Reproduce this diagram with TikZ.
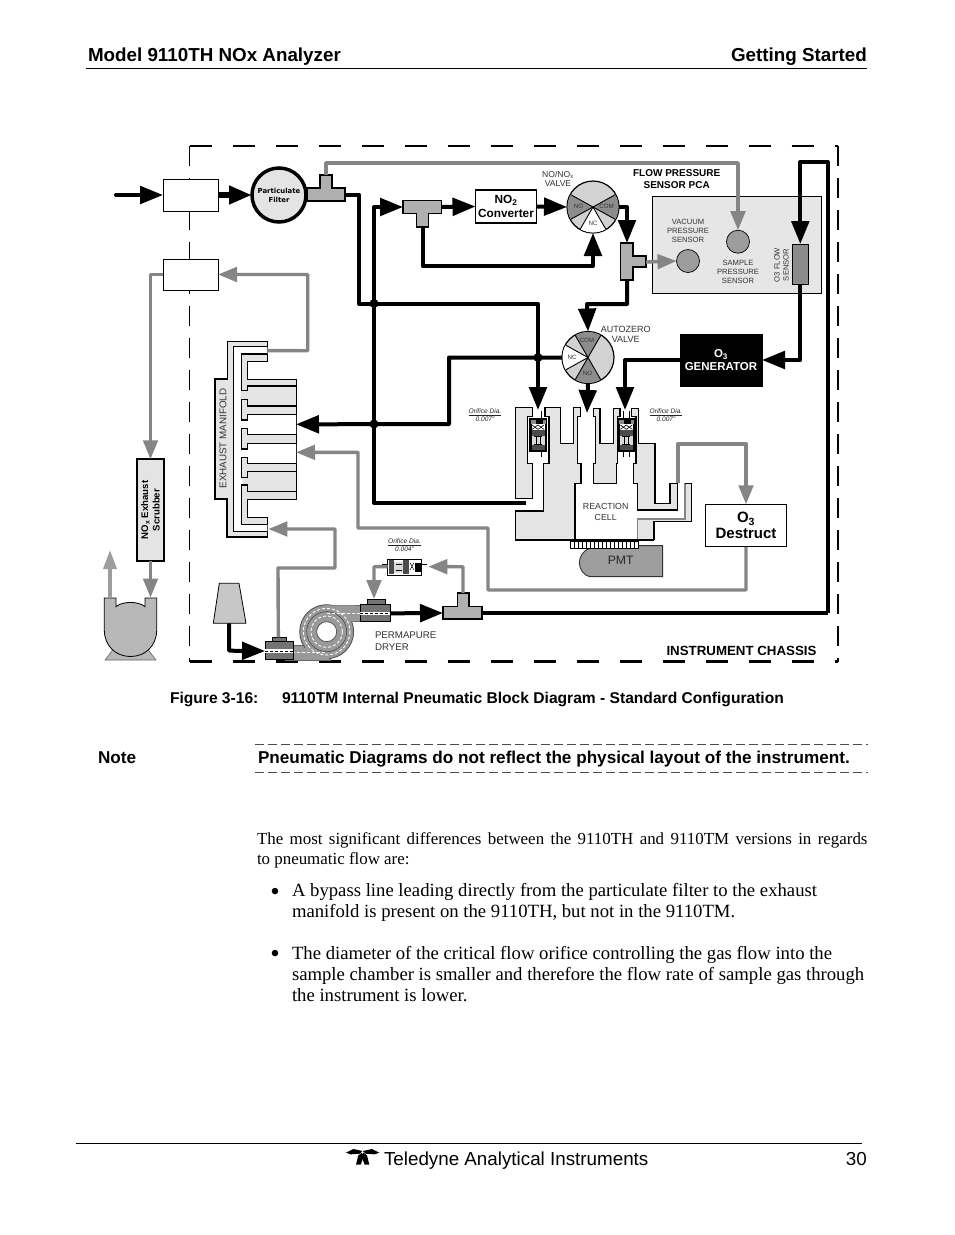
\documentclass[tikz,border=0pt]{standalone}
\usepackage{fontspec}
\setmainfont{Liberation Serif}
\setsansfont{Liberation Sans}
\newfontfamily\filterfont{DejaVu Sans}
\usetikzlibrary{arrows.meta}
\newcommand\pxf[1]{\fontsize{#1}{#1}\selectfont}
\definecolor{bodyg}{HTML}{E4E4E4}
\definecolor{teeg}{HTML}{B0B0B0}
\definecolor{pipeg}{HTML}{858585}
\definecolor{darkg}{HTML}{8C8C8C}
\definecolor{valveg}{HTML}{D2D2D2}
\tikzset{
 blk/.style={draw=black,line width=4pt,line join=round},
 blkA/.style={blk,-{Triangle[length=23pt,width=17.5pt]}},
 gry/.style={draw=pipeg,line width=3.4pt,line join=round},
 gryA/.style={gry,-{Triangle[length=19pt,width=14.5pt]}},
 box/.style={draw=black,fill=white,line width=1pt,inner sep=0pt,outer sep=0pt,align=center,font=\sffamily},
 tee/.style={draw=black,fill=teeg,line width=1.3pt,line join=miter},
 wall/.style={draw=black,fill=bodyg,line width=1.5pt,line join=miter},
 dotj/.style={circle,fill=black,inner sep=0pt,minimum size=9pt},
 lab/.style={inner sep=0pt,outer sep=0pt,align=center,font=\sffamily\pxf{7.6}\selectfont,text=black!80},
 orf/.style={inner sep=0pt,outer sep=0pt,align=center,font=\sffamily\itshape\pxf{6.6}\selectfont,text=black!85},
 txt/.style={inner sep=0pt,outer sep=0pt,anchor=base west},
 vlab/.style={inner sep=0pt,font=\sffamily\pxf{6.2}\selectfont,text=black!80},
 valve/.style={circle,draw=black,fill=valveg,line width=1.2pt,minimum size=52pt,inner sep=0pt,outer sep=0pt},
 sensor/.style={circle,draw=black,fill=darkg!85!white,line width=.7pt,minimum size=23pt,inner sep=0pt,outer sep=0pt},
}
\begin{document}
\begin{tikzpicture}[x=1pt,y=-1pt]
\useasboundingbox (0,0) rectangle (954,1235);
\fill[white] (0,0) rectangle (954,1235);

% ---------- page header
\node[txt,font=\sffamily\bfseries\pxf{18.8}] (hL) at (88,61) {Model 9110TH NOx Analyzer};
\node[inner sep=0pt,anchor=base east,font=\sffamily\bfseries\pxf{18.8}] (hR) at (867,61) {Getting Started};
\draw[line width=.8pt] (86,68.5) -- (867,68.5);

% ---------- chassis
\draw[line width=2.1pt,dash pattern=on 22pt off 21pt] (189.5,146) -- (838,146);
\draw[line width=2.1pt,dash pattern=on 22pt off 21pt] (189.5,661.5) -- (838,661.5);
\draw[line width=2.1pt,dash pattern=on 20pt off 12pt] (838,146) -- (838,662);
\draw[line width=1pt,dash pattern=on 20pt off 12pt] (189.5,146) -- (189.5,662);
\node[font=\sffamily\bfseries\pxf{13.3},inner sep=0pt] (chasT) at (741.5,651) {INSTRUMENT CHASSIS};

% ---------- boxes
\node[box,minimum width=55pt,minimum height=32pt] (box1) at (190.5,195) {};
\node[box,minimum width=55pt,minimum height=31pt] (box2) at (190.5,274.5) {};
\node[circle,draw=black,fill=bodyg,line width=3.5pt,minimum size=54pt,inner sep=0pt,outer sep=0pt,align=center,font=\filterfont\bfseries\pxf{6.9}] (filter) at (279,195) {Particulate\\[2pt]Filter};
\node[box,line width=1.1pt,minimum width=61pt,minimum height=33pt,font=\sffamily\bfseries\pxf{11.8}] (conv) at (506,206.5) {NO\textsubscript{2}\\[1.5pt]Converter};
\node[box,draw=black,fill=black,text=white,minimum width=82pt,minimum height=52pt,font=\sffamily\bfseries\pxf{11.5}] (gen) at (721,360) {O\textsubscript{3}\\[1pt]GENERATOR};
\node[box,minimum width=80.5pt,minimum height=42.5pt,font=\sffamily\bfseries\pxf{15}] (dest) at (746,525.5) {O\textsubscript{3}\\[1pt]Destruct};
\node[box,fill=bodyg,line width=1.8pt,minimum width=27.5pt,minimum height=101.5pt] (scrub) at (150.5,510) {};
\node[rotate=90,inner sep=0pt,align=center,font=\sffamily\bfseries\pxf{9.6}] (scrubT) at (150.5,510) {NO\textsubscript{x} Exhaust\\[2pt]Scrubber};

% ---------- PCA
\node[box,fill=bodyg!92!white,line width=1pt,minimum width=169pt,minimum height=96.5pt] (pca) at (737.2,245) {};
\node[lab,font=\sffamily\bfseries\pxf{10},text=black] (pcaT) at (676.7,179) {FLOW PRESSURE\\[2pt]SENSOR PCA};
\node[sensor] (vac) at (688,261) {};
\node[sensor] (samp) at (738,241.7) {};
\node[box,fill=darkg,minimum width=15.5pt,minimum height=40pt] (flow) at (800.3,264) {};
\node[lab] (vacT) at (688,230.5) {VACUUM\\[1.4pt]PRESSURE\\[1.4pt]SENSOR};
\node[lab] (sampT) at (738,271.5) {SAMPLE\\[1.4pt]PRESSURE\\[1.4pt]SENSOR};
\node[lab,rotate=90] (flowT) at (781.5,265) {O3 FLOW\\[1.4pt]SENSOR};

% ---------- valves
\node[valve] (vA) at (593,207) {};
\fill[darkg] (vA.center) -- +(151:25.5pt) arc (151:209:25.5pt) -- cycle;
\fill[darkg] (vA.center) -- +(-29:25.5pt) arc (-29:29:25.5pt) -- cycle;
\fill[white] (vA.center) -- +(240:25.5pt) arc (240:300:25.5pt) -- cycle;
\foreach \a in {151,209,-29,29,240,300}{\draw[line width=.9pt] (vA.center) -- +(\a:25.5pt);}
\node[vlab] (vA1) at (578.5,206.5) {NO};
\node[vlab] (vA2) at (606.5,206) {COM};
\node[vlab] (vA3) at (593,223) {NC};
\node[lab,font=\sffamily\pxf{8.6}] (vAT) at (558,178.5) {NO/NO\textsubscript{x}\\[.6pt]VALVE};

\node[valve] (vB) at (588,357.5) {};
\fill[darkg] (vB.center) -- +(60:25.5pt) arc (60:120:25.5pt) -- cycle;
\fill[darkg] (vB.center) -- +(240:25.5pt) arc (240:300:25.5pt) -- cycle;
\fill[white] (vB.center) -- +(151:25.5pt) arc (151:209:25.5pt) -- cycle;
\foreach \a in {60,120,240,300,151,209}{\draw[line width=.9pt] (vB.center) -- +(\a:25.5pt);}
\node[vlab] (vB1) at (587,340) {COM};
\node[vlab] (vB2) at (587.5,373.5) {NO};
\node[vlab] (vB3) at (572,357) {NC};
\node[lab,font=\sffamily\pxf{9}] (vBT) at (625.7,334) {AUTOZERO\\[1pt]VALVE};

% ---------- reaction block (zoom coordinates)
\begin{scope}[shift={(510,395)},x=.33333pt,y=-.33333pt]
 \fill[white] (195,265) rectangle (383,435);
 \draw[wall] (68,38)--(16,38)--(16,310)--(68,310)--(68,205)--(52,205)--(52,65)--(68,65)--cycle;
 \draw[wall] (105,38)--(152,38)--(152,145)--(190,145)--(190,38)--(212,38)--(212,65)--(202,65)--(202,205)--(213,205)--(213,265)--(195,265)--(195,435)--(16,435)--(16,348)--(100,348)--(100,205)--(117,205)--(117,65)--(105,65)--cycle;
 \draw[wall] (250,40)--(270,40)--(270,145)--(310,145)--(310,40)--(330,40)--(330,65)--(322,65)--(322,205)--(320,205)--(320,265)--(250,265)--(250,205)--(257,205)--(257,65)--(250,65)--cycle;
 \draw[wall] (365,40)--(385,40)--(385,145)--(435,145)--(435,325)--(480,325)--(480,265)--(503,265)--(503,345)--(383,345)--(383,265)--(370,265)--(370,205)--(378,205)--(378,65)--(365,65)--cycle;
 \fill[bodyg] (383,372)--(525,372)--(525,265)--(545,265)--(545,380)--(432,380)--(432,435)--(383,435)--cycle;
 \draw[pipeg,line width=1.4pt] (525,265)--(525,372)--(383,372)--(383,435);
 \draw[black,line width=1.2pt] (525,265)--(545,265)--(545,380)--(432,380)--(432,435);
 \draw[black,line width=1.8pt] (150,435)--(383,435);
 \draw[black,line width=1.2pt] (383,435)--(432,435);
 % PMT
 \draw[draw=black!80,fill=teeg!90!black,line width=.9pt] (385,452)--(458,452)--(458,545)--(245,545) .. controls (220,545) and (208,520) .. (208,503) .. controls (208,485) and (222,460) .. (245,460) -- (385,460) -- cycle;
 \draw[fill=white,line width=1pt] (182,438) rectangle (385,460);
 \foreach \xx in {194,206,...,376}{\draw[line width=.8pt] (\xx,438)--(\xx,460);}
 % orifices
 \foreach \dx/\sa/\sb in {0/93/93,265/75/93}{
  \begin{scope}[shift={(\dx,0)}]
  \draw[line width=.7pt] (\sa,48)--(\sa,72) (\sb,48)--(\sb,72) (\sa,168)--(\sa,186) (\sb,168)--(\sb,186);
  \fill[white] (60,72) rectangle (110,168);
  \fill[black!45] (62,72) rectangle (108,88);
  \fill[black] (78,74) rectangle (98,88);
  \draw[line width=.6pt] (66,90)--(84,103)--(102,90) (66,103)--(84,90)--(102,103);
  \fill[black!70] (66,105) rectangle (104,122);
  \fill[black!15] (66,122) rectangle (104,150);
  \draw[line width=.7pt] (78,125)--(78,147) (90,125)--(90,147) (72,125)--(96,125) (72,147)--(96,147);
  \fill[black!70] (66,150) rectangle (104,168);
  \draw[line width=1.1pt] (60,72) rectangle (110,168);
  \draw[line width=.7pt] (64,88)--(64,168) (106,88)--(106,168);
  \end{scope}}
\end{scope}
\node[lab,font=\sffamily\pxf{8.8}] (rcT) at (605.7,512) {REACTION\\[1.4pt]CELL};
\node[inner sep=0pt,font=\sffamily\pxf{12.2},text=black!85] (pmt) at (620.7,560) {PMT};
\coordinate (cellIn) at (526,503);

% ---------- exhaust manifold (zoom coordinates)
\begin{scope}[shift={(210,335)},x=.33333pt,y=-.33333pt]
 \draw[draw=black,fill=bodyg,line width=1pt] (52,20)--(172,20)--(172,78)--(112,78)--(112,133)--(258,133)--(258,492)--(112,492)--(112,547)--(172,547)--(172,607)--(52,607)--(52,492)--(15,492)--(15,133)--(52,133)--cycle;
 \draw[line width=1.8pt] (52,133)--(15,133)--(15,492)--(52,492)--(52,607)--(172,607);
 \fill[white] (70,35)--(172,35)--(172,57)--(95,57)--(95,167)--(92,167)--(92,193)--(95,193)--(95,255)--(112,255)--(112,238)--(258,238)--(258,298)--(112,298)--(112,280)--(95,280)--(95,342)--(112,342)--(112,325)--(258,325)--(258,385)--(112,385)--(112,367)--(95,367)--(95,428)--(97,428)--(97,450)--(95,450)--(95,568)--(172,568)--(172,590)--(70,590)--cycle;
 \draw[line width=1.4pt] (172,35)--(70,35)--(70,590)--(172,590);
 \draw[line width=1.4pt] (172,57)--(95,57)--(95,167)--(112,167)--(112,153)--(258,153);
 \draw[line width=1.2pt] (258,213)--(112,213)--(112,193)--(95,193)--(95,255)--(112,255)--(112,238)--(258,238);
 \draw[line width=1.2pt] (258,298)--(112,298)--(112,280)--(95,280)--(95,342)--(112,342)--(112,325)--(258,325);
 \draw[line width=1.2pt] (258,385)--(112,385)--(112,367)--(95,367)--(95,428)--(112,428)--(112,410)--(258,410);
 \draw[line width=1.2pt] (258,470)--(112,470)--(112,450)--(95,450)--(95,568)--(172,568);
 \coordinate (mOut) at (172,47);
 \coordinate (mIn) at (175,582);
 \coordinate (mA) at (258,268);
 \coordinate (mB) at (258,352);
\end{scope}
\node[rotate=90,inner sep=0pt,font=\sffamily\pxf{9.8},text=black!80] (manT) at (223,438.5) {EXHAUST MANIFOLD};

% ---------- tees
\draw[tee] (307,188)--(320,188)--(320,175)--(332,175)--(332,188)--(345,188)--(345,201)--(307,201)--cycle;
\draw[tee] (403,200.5)--(441.5,200.5)--(441.5,213.5)--(428.5,213.5)--(428.5,227)--(416.5,227)--(416.5,213.5)--(403,213.5)--cycle;
\draw[tee] (620.5,243)--(633,243)--(633,256)--(646,256)--(646,267)--(633,267)--(633,280)--(620.5,280)--cycle;
\draw[tee] (443,606.5)--(457.5,606.5)--(457.5,593)--(469,593)--(469,606.5)--(482,606.5)--(482,619)--(443,619)--cycle;
\coordinate (aT) at (326,175);
\coordinate (aR) at (345,194.5);
\coordinate (bL) at (403,207);
\coordinate (bR) at (441.5,207);
\coordinate (bB) at (422.5,227);
\coordinate (cT) at (627,243);
\coordinate (cB) at (627,280);
\coordinate (cR) at (646,262);
\coordinate (dL) at (443,613);
\coordinate (dR) at (482,613);
\coordinate (dT) at (463,593);

% ---------- dryer
\begin{scope}[shift={(255,590)},x=.33333pt,y=-.33333pt]
 \draw[draw=black!60,fill=black!40,line width=.6pt] (215,45) rectangle (330,95);
 \draw[draw=black!60,fill=black!40,line width=.6pt] (90,165) rectangle (225,210);
 \draw[draw=black!70,fill=black!40,line width=.8pt] (215,125) circle[radius=81];
 \fill[black!40] (150,166) rectangle (222,209) (215,46) rectangle (300,94);
 \draw[black!75,line width=.5pt] (215,125) circle[radius=60];
 \draw[white,line width=.9pt,dash pattern=on 3pt off 2pt] (215,125) circle[radius=70];
 \draw[white,line width=.9pt,dash pattern=on 3pt off 2pt] (215,125) circle[radius=47];
 \draw[black!70,fill=white,line width=.7pt] (215,125) circle[radius=30];
 \draw[white,line width=.9pt,dash pattern=on 3pt off 2pt] (215,70)--(320,70) (110,186)--(215,186);
 \draw[draw=black,fill=black!55,line width=.7pt] (315,42) rectangle (405,95);
 \draw[draw=black,fill=black!55,line width=.7pt] (338,27) rectangle (390,42);
 \fill[white] (315,65) rectangle (405,75);
 \draw[black,line width=.5pt,dash pattern=on 3pt off 2pt] (315,70)--(405,70);
 \draw[draw=black,fill=black!55,line width=.7pt] (30,155) rectangle (115,208);
 \draw[draw=black,fill=black!55,line width=.7pt] (52,142) rectangle (95,155);
 \fill[white] (30,178) rectangle (115,188);
 \draw[black,line width=.5pt,dash pattern=on 3pt off 2pt] (30,183)--(115,183);
 \coordinate (topPort) at (405,70);
 \coordinate (topCap) at (357,27);
 \coordinate (lowCap) at (70,142);
 \coordinate (lowPort) at (30,183);
\end{scope}
\node[lab,anchor=north west,align=left,font=\sffamily\pxf{9.7}] (dryT) at (375,632) {PERMAPURE\\[2pt]DRYER};

% ---------- 0.004 orifice
\begin{scope}[shift={(220,520)},x=.33333pt,y=-.33333pt]
 \draw[line width=.7pt] (487,133)--(620,133);
 \draw[fill=white,line width=1pt] (503,118) rectangle (605,165);
 \fill[black!70] (507,121) rectangle (522,162);
 \fill[black!15] (522,125) rectangle (550,158);
 \draw[line width=.6pt] (528,133)--(545,133) (528,150)--(545,150);
 \fill[black!70] (550,121) rectangle (566,162);
 \draw[line width=.5pt] (570,128)--(582,150) (570,150)--(582,128);
 \fill[black] (584,128) rectangle (603,155);
 \coordinate (orL) at (503,140);
 \coordinate (orR) at (625,140);
\end{scope}
\node[orf] (orC) at (404.5,545.5) {\underline{Orifice Dia.}\\[.4pt]0.004"};
\node[orf] (orA) at (485,415.5) {\underline{Orifice Dia.}\\[.4pt]0.007"};
\node[orf] (orB) at (666,415.5) {\underline{Orifice Dia.}\\[.4pt]0.007"};

% ---------- pump and lamp
\draw[draw=black!60,fill=black!28,line width=.6pt] (105,660)--(115,647)--(146,647)--(156,660)--cycle;
\draw[draw=black,fill=black!28,line width=.8pt] (104.3,598)--(116,598)--(116,606.7) .. controls (122,601) and (139,601) .. (145,606.7) --(145,598)--(156.7,598)--(156.7,630) .. controls (156.7,646) and (145,656.5) .. (130.5,656.5) .. controls (116,656.5) and (104.3,646) .. (104.3,630) --cycle;
\coordinate (pumpL) at (110,598);
\coordinate (pumpR) at (150.5,597.5);
\coordinate (pumpUp) at (110,550);
\draw[draw=black,fill=black!22,line width=.8pt] (219.3,583.3)--(239,583.3)--(246,623.3)--(213.3,623.3)--cycle;
\coordinate (lamp) at (229,623.3);

% ---------- gray connectors
\draw[gryA] (aT) -- (326,163) -- (738,163) -- (samp.north);
\draw[gryA] (cR) -- (vac.west);
\draw[gryA] (mOut) -- (307.7,350.7) -- (307.7,274.5) -- (box2.east);
\draw[gryA] (box2.west) -- (150.5,274.5) -- (scrub.north);
\draw[gryA] (scrub.south) -- (pumpR);
\draw[gry,draw=pipeg!80!white,-{Triangle[length=19pt,width=13pt]}] (pumpL) -- (pumpUp);
\draw[gryA] (lowCap) -- (278,568) -- (335,568) -- (335,529) -- (mIn);
\draw[gryA] (dT) -- (463,566.7) -- (orR);
\draw[gryA] (orL) -- (374,566.7) -- (topCap);
\draw[gryA] (678,483) -- (678,444) -- (746,444) -- (dest.north);
\draw[gryA] (dest.south) -- (746,590) -- (488,590) -- (488,528) -- (358,528) -- (358,452.3) -- (mB);

% ---------- black connectors
\coordinate (inlet) at (116,195);
\draw[blkA,line cap=round] (inlet) -- (box1.west);
\draw[blkA,line width=6pt] (box1.east) -- (filter.west);
\draw[blkA] (aR) -- (359,194.5) -- (359,304) -- (538,304) -- (538,410);
\draw[blkA] (cellIn) -- (374,503) -- (374,207) -- (bL);
\draw[blkA] (bR) -- (conv.west);
\draw[blkA] (bB) -- (422.5,266) -- (593,266) -- (vA.south);
\draw[blkA] (conv.east) -- (vA.west);
\draw[blkA] (vA.east) -- (627,207) -- (cT);
\draw[blkA] (cB) -- (627,304) -- (587,304) -- (vB.north);
\draw[blkA] (vB.west) -- (449,357.5) -- (449,424) -- (mA);
\draw[blkA] (vB.south) -- (587,413);
\draw[blkA] (828,613) -- (828,162) -- (800.3,162) -- (flow.north);
\draw[blk] (dR) -- (828,613);
\draw[blkA] (flow.south) -- (800.3,360) -- (gen.east);
\draw[blkA] (gen.west) -- (625,360) -- (625,410);
\draw[blkA] (lamp) -- (229,650.7) -- (lowPort);
\draw[blkA] (topPort) -- (dL);
\node[dotj] (j1) at (374,303.5) {};
\node[dotj] (j2) at (374,424) {};
\node[dotj] (j3) at (538,357.5) {};

% ---------- caption and note
\node[txt,font=\sffamily\bfseries\pxf{15.6}] (cap1) at (170,703) {Figure 3-16:};
\node[txt,font=\sffamily\bfseries\pxf{15.6}] (cap2) at (282,703) {9110TM Internal Pneumatic Block Diagram - Standard Configuration};
\node[txt,font=\sffamily\bfseries\pxf{17.15}] (nt1) at (98,763.5) {Note};
\node[txt,font=\sffamily\bfseries\pxf{17.15}] (nt2) at (258,763.5) {Pneumatic Diagrams do not reflect the physical layout of the instrument.};
\draw[line width=.7pt,black!70,dash pattern=on 9pt off 4pt] (255,744.5) -- (868,744.5);
\draw[line width=.7pt,black!70,dash pattern=on 9pt off 4pt] (255,772) -- (868,772);

% ---------- body text
\node[txt,font=\pxf{16.9}] (p1) at (257,844) {\makebox[610.5pt][s]{The most significant differences between the 9110TH and 9110TM versions in regards}};
\node[txt,font=\pxf{16.9}] (p2) at (257,864) {to pneumatic flow are:};
\node[inner sep=0pt,anchor=base,font=\pxf{27}] (b1) at (275,900) {\textbullet};
\node[txt,font=\pxf{18.7}] (l1) at (292,896.5) {A bypass line leading directly from the particulate filter to the exhaust};
\node[txt,font=\pxf{18.7}] (l2) at (292,917.5) {manifold is present on the 9110TH, but not in the 9110TM.};
\node[inner sep=0pt,anchor=base,font=\pxf{27}] (b2) at (275,962) {\textbullet};
\node[txt,font=\pxf{18.7}] (l3) at (292,959) {The diameter of the critical flow orifice controlling the gas flow into the};
\node[txt,font=\pxf{18.7}] (l4) at (292,980.5) {sample chamber is smaller and therefore the flow rate of sample gas through};
\node[txt,font=\pxf{18.7}] (l5) at (292,1001.5) {the instrument is lower.};

% ---------- footer
\draw[line width=.8pt] (76,1143) -- (862,1143);
\begin{scope}[shift={(330,1140)},x=.33333pt,y=-.33333pt]
 \fill (48,38)--(70,27)--(97,33)--(90,41)--(62,43)--cycle;
 \fill (78,74)--(85,46)--(96,38)--(101,50)--(92,74)--cycle;
 \fill (148,38)--(126,27)--(99,33)--(106,41)--(134,43)--cycle;
 \fill (118,74)--(111,46)--(100,38)--(95,50)--(104,74)--cycle;
\end{scope}
\node[txt,font=\sffamily\pxf{18.8}] (ft) at (384,1165) {Teledyne Analytical Instruments};
\node[inner sep=0pt,anchor=base east,font=\sffamily\pxf{18.8}] (pg) at (867,1165) {30};
\end{tikzpicture}
\end{document}
